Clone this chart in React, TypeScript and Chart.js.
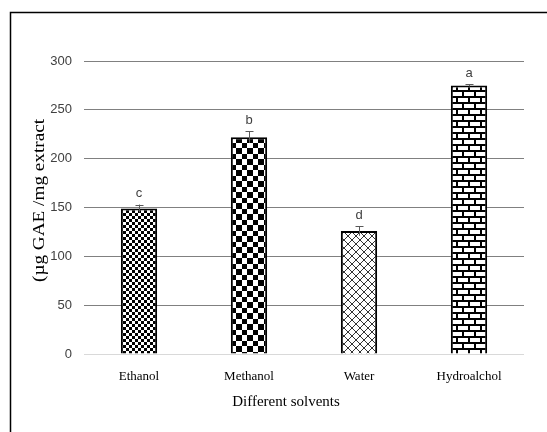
import React, { useEffect, useRef } from "react";
import { Chart, registerables } from "chart.js";

Chart.register(...registerables);

const categories = ["Ethanol", "Methanol", "Water", "Hydroalchol"];
const values = [149, 222, 126, 275];
const errors = [4, 6, 5, 1];
const letters = ["c", "b", "d", "a"];
const yTicks = [0, 50, 100, 150, 200, 250, 300];
const xTitle = "Different solvents";
const yTitle = "(µg GAE /mg extract";

function makePattern(kind: string): CanvasPattern | string {
  const c = document.createElement("canvas");
  let ctx: CanvasRenderingContext2D;
  if (kind === "smallCheck") {
    c.width = 6; c.height = 6;
    ctx = c.getContext("2d")!;
    ctx.fillStyle = "#fff"; ctx.fillRect(0, 0, 6, 6);
    ctx.fillStyle = "#000";
    ctx.fillRect(0, 0, 3, 3); ctx.fillRect(3, 3, 3, 3);
  } else if (kind === "bigCheck") {
    c.width = 11; c.height = 11;
    ctx = c.getContext("2d")!;
    ctx.fillStyle = "#fff"; ctx.fillRect(0, 0, 11, 11);
    ctx.fillStyle = "#000";
    ctx.fillRect(0, 0, 5, 5); ctx.fillRect(5, 5, 6, 6);
  } else if (kind === "diamond") {
    c.width = 8; c.height = 8;
    ctx = c.getContext("2d")!;
    ctx.fillStyle = "#fff"; ctx.fillRect(0, 0, 8, 8);
    ctx.strokeStyle = "#333"; ctx.lineWidth = 1;
    ctx.beginPath();
    ctx.moveTo(0, 0); ctx.lineTo(8, 8);
    ctx.moveTo(8, 0); ctx.lineTo(0, 8);
    ctx.stroke();
  } else {
    c.width = 12; c.height = 12;
    ctx = c.getContext("2d")!;
    ctx.fillStyle = "#fff"; ctx.fillRect(0, 0, 12, 12);
    ctx.fillStyle = "#000";
    ctx.fillRect(0, 0, 12, 2);
    ctx.fillRect(0, 6, 12, 2);
    ctx.fillRect(0, 0, 2, 6);
    ctx.fillRect(6, 6, 2, 6);
  }
  const p = document.createElement("canvas").getContext("2d")!.createPattern(c, "repeat");
  return p || "#888";
}

const annotPlugin = {
  id: "annot",
  beforeDraw(chart: any) {
    const ctx = chart.ctx;
    ctx.save();
    ctx.fillStyle = "#fff";
    ctx.fillRect(0, 0, chart.width, chart.height);
    ctx.strokeStyle = "#000";
    ctx.lineWidth = 1.5;
    ctx.beginPath();
    ctx.moveTo(10.5, chart.height + 5);
    ctx.lineTo(10.5, 12.5);
    ctx.lineTo(chart.width + 5, 12.5);
    ctx.stroke();
    ctx.restore();
  },
  afterDatasetsDraw(chart: any) {
    const ctx = chart.ctx;
    const meta = chart.getDatasetMeta(0);
    const y = chart.scales.y;
    ctx.save();
    meta.data.forEach((bar: any, i: number) => {
      const x = bar.x;
      const yt = y.getPixelForValue(values[i] + errors[i]);
      const yb = y.getPixelForValue(values[i] - errors[i]);
      ctx.strokeStyle = "#595959";
      ctx.lineWidth = 1;
      ctx.beginPath();
      ctx.moveTo(x + 0.5, yt);
      ctx.lineTo(x + 0.5, yb);
      ctx.moveTo(x - 3.5, Math.round(yt) + 0.5);
      ctx.lineTo(x + 4.5, Math.round(yt) + 0.5);
      ctx.stroke();
      ctx.fillStyle = "#404040";
      ctx.font = "13px 'Liberation Sans Narrow', 'Liberation Sans', sans-serif";
      ctx.textAlign = "center";
      ctx.textBaseline = "middle";
      ctx.fillText(letters[i], x, yt - 11);
    });
    ctx.restore();
  },
  afterDraw(chart: any) {
    const ctx = chart.ctx;
    const area = chart.chartArea;
    ctx.save();
    ctx.fillStyle = "#000";
    ctx.textAlign = "center";
    ctx.textBaseline = "middle";
    ctx.font = "15px 'Liberation Serif', 'Times New Roman', serif";
    ctx.fillText(xTitle, (area.left + area.right) / 2 - 18, 402);
    ctx.translate(40, (area.top + area.bottom) / 2 - 7);
    ctx.rotate(-Math.PI / 2);
    ctx.scale(1.2, 1);
    ctx.font = "16px 'Liberation Serif', 'Times New Roman', serif";
    ctx.fillText(yTitle, 0, 0);
    ctx.restore();
  },
};

export default function App() {
  const ref = useRef<HTMLCanvasElement | null>(null);
  useEffect(() => {
    const canvas = ref.current!;
    const patterns = [
      makePattern("smallCheck"),
      makePattern("bigCheck"),
      makePattern("diamond"),
      makePattern("brick"),
    ];
    const chart = new Chart(canvas, {
      type: "bar",
      data: {
        labels: categories,
        datasets: [
          {
            data: values,
            backgroundColor: patterns as any,
            borderColor: "#000",
            borderWidth: 2,
            categoryPercentage: 1,
            barPercentage: 0.33,
          },
        ],
      },
      options: {
        responsive: false,
        animation: false,
        devicePixelRatio: 1,
        layout: { padding: { left: 0, top: 61, right: 23, bottom: 0 } },
        plugins: { legend: { display: false }, tooltip: { enabled: false } },
        scales: {
          x: {
            afterFit: (s: any) => { s.height = 78; },
            grid: { display: false, drawTicks: false },
            border: { display: false },
            ticks: {
              padding: 15,
              color: "#000",
              font: { family: "'Liberation Serif', 'Times New Roman', serif", size: 13 },
            },
          },
          y: {
            min: 0,
            max: 300,
            afterFit: (s: any) => { s.width = 84; },
            afterBuildTicks: (s: any) => { s.ticks = yTicks.map((v) => ({ value: v })); },
            grid: {
              drawTicks: false,
              color: (c: any) => (c.tick && c.tick.value === 0 ? "#d9d9d9" : "#808080"),
              lineWidth: 1,
            },
            border: { display: false },
            ticks: {
              padding: 12,
              color: "#404040",
              font: { family: "'Liberation Sans Narrow', 'Liberation Sans', sans-serif", size: 13 },
            },
          },
        },
      },
      plugins: [annotPlugin],
    });
    return () => chart.destroy();
  }, []);
  return (
    <div style={{ position: "fixed", left: 0, top: 0, width: 547, height: 432, background: "#fff" }}>
      <canvas ref={ref} width={547} height={432} style={{ display: "block", width: 547, height: 432 }} />
    </div>
  );
}
